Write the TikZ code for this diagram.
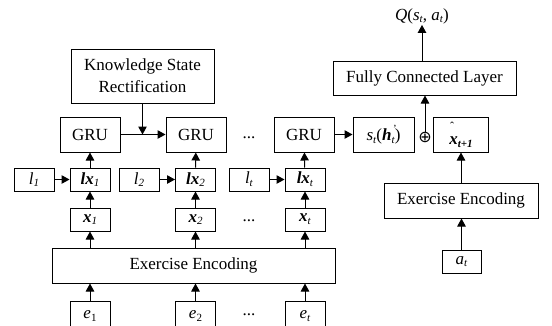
\documentclass[tikz,border=0pt]{standalone}
\usepackage{fontspec}
\setmainfont{Liberation Serif}
\newfontfamily\symf{DejaVu Sans}
\usetikzlibrary{arrows.meta}
\newcommand{\mysb}[1]{\raisebox{-0.35ex}{\fontsize{11}{11}\selectfont #1}}
\newcommand{\bi}[1]{\textbf{\textit{#1}}}
\begin{document}
\begin{tikzpicture}[x=1pt,y=-1pt,font=\fontsize{17}{22}\selectfont,
  box/.style={draw,line width=1pt,inner sep=0pt,align=center},
  sbox/.style={box,minimum width=40pt,minimum height=23pt},
  gbox/.style={box,minimum width=60pt,minimum height=35pt},
  arr/.style={line width=1pt,-{Triangle[length=8pt,width=8.5pt]}},
  dots/.style={inner sep=0pt}]
\useasboundingbox (0,0) rectangle (552,325);
\clip (0,0) rectangle (552,325);
% top-left
\node[box,minimum width=143pt,minimum height=54pt] (ksr) at (142.5,76) {Knowledge State\\Rectification};
\node[gbox] (gru1) at (90,134.5) {GRU};
\node[gbox] (gru2) at (196,134.5) {GRU};
\node[gbox] (gru3) at (304,134.5) {GRU};
\node[dots] (d1) at (249,138) {...};
\node[box,minimum width=61pt,minimum height=35pt] (st) at (383.5,134.5)
  {\textit{s}\mysb{\textit{t}}(\bi{h}\rlap{\raisebox{1.05ex}{\hspace{0.05em}\fontsize{11}{11}\selectfont\textit{'}}}\mysb{\textit{t}})};
\node[inner sep=0pt] (op) at (425,137) {\fontsize{16}{16}\selectfont\symf ⊕};
\node[box,minimum width=55pt,minimum height=35pt] (xh) at (461,134.5)
  {\rlap{\raisebox{0.85em}{\hspace{0.05em}\fontsize{12}{12}\selectfont\char"02C6}}\bi{x}\mysb{\bi{t+1}}};
\node[box,minimum width=183pt,minimum height=34pt] (fcl) at (424.5,78) {Fully Connected Layer};
\node[inner sep=1pt] (q) at (422,16) {\textit{Q}(\textit{s}\mysb{\textit{t}}, \textit{a}\mysb{\textit{t}})};
% l and lx row
\node[sbox] (l1) at (34,179.5) {\textit{l}\mysb{\textit{1}}};
\node[sbox] (l2) at (139,179.5) {\textit{l}\mysb{\textit{2}}};
\node[sbox] (lt) at (249,179.5) {\textit{l}\mysb{\textit{t}}};
\node[sbox] (lx1) at (90,179.5) {\bi{lx}\mysb{\textit{1}}};
\node[sbox] (lx2) at (195.5,179.5) {\bi{lx}\mysb{\textit{2}}};
\node[sbox] (lxt) at (305,179.5) {\bi{lx}\mysb{\textit{t}}};
% x row
\node[sbox] (x1) at (90,219.5) {\bi{x}\mysb{\textit{1}}};
\node[sbox] (x2) at (195.5,219.5) {\bi{x}\mysb{\textit{2}}};
\node[sbox] (xt) at (305,219.5) {\bi{x}\mysb{\textit{t}}};
\node[dots] (d2) at (249,221) {...};
% encoding
\node[box,minimum width=283pt,minimum height=35pt] (eeL) at (193.5,265.5) {Exercise Encoding};
\node[box,minimum width=40pt,minimum height=30pt] (e1) at (90,316) {\textit{e}\mysb{1}};
\node[box,minimum width=40pt,minimum height=30pt] (e2) at (195.5,316) {\textit{e}\mysb{2}};
\node[box,minimum width=40pt,minimum height=30pt] (et) at (305,316) {\textit{e}\mysb{\textit{t}}};
\node[dots] (d3) at (249,315) {...};
% right
\node[box,minimum width=154pt,minimum height=35pt] (eeR) at (461,200.5) {Exercise Encoding};
\node[box,minimum width=39pt,minimum height=23pt] (at) at (461.5,261.5) {\textit{a}\mysb{\textit{t}}};
% connectors
\foreach \e/\x/\l/\lx/\g in {e1/x1/l1/lx1/gru1,e2/x2/l2/lx2/gru2,et/xt/lt/lxt/gru3}{
  \draw[arr] (\e.north) -- (\e.north |- eeL.south);
  \draw[arr] (eeL.north -| \x.south) -- (\x.south);
  \draw[arr] (\x) -- (\lx);
  \draw[arr] (\l) -- (\lx);
  \draw[arr] (\lx) -- (\g);
}
\draw[arr] (gru1) -- (gru2);
\coordinate (kk) at (ksr.south |- gru1.east);
\draw[arr] (ksr.south) -- (kk);
\draw[arr] (gru3) -- (st);
\draw[arr] (op) -- (op |- fcl.south);
\draw[arr] (fcl.north -| q.south) -- (q.south);
\draw[arr] (at) -- (at |- eeR.south);
\draw[arr] (eeR.north -| xh.south) -- (xh.south);
\end{tikzpicture}
\end{document}
